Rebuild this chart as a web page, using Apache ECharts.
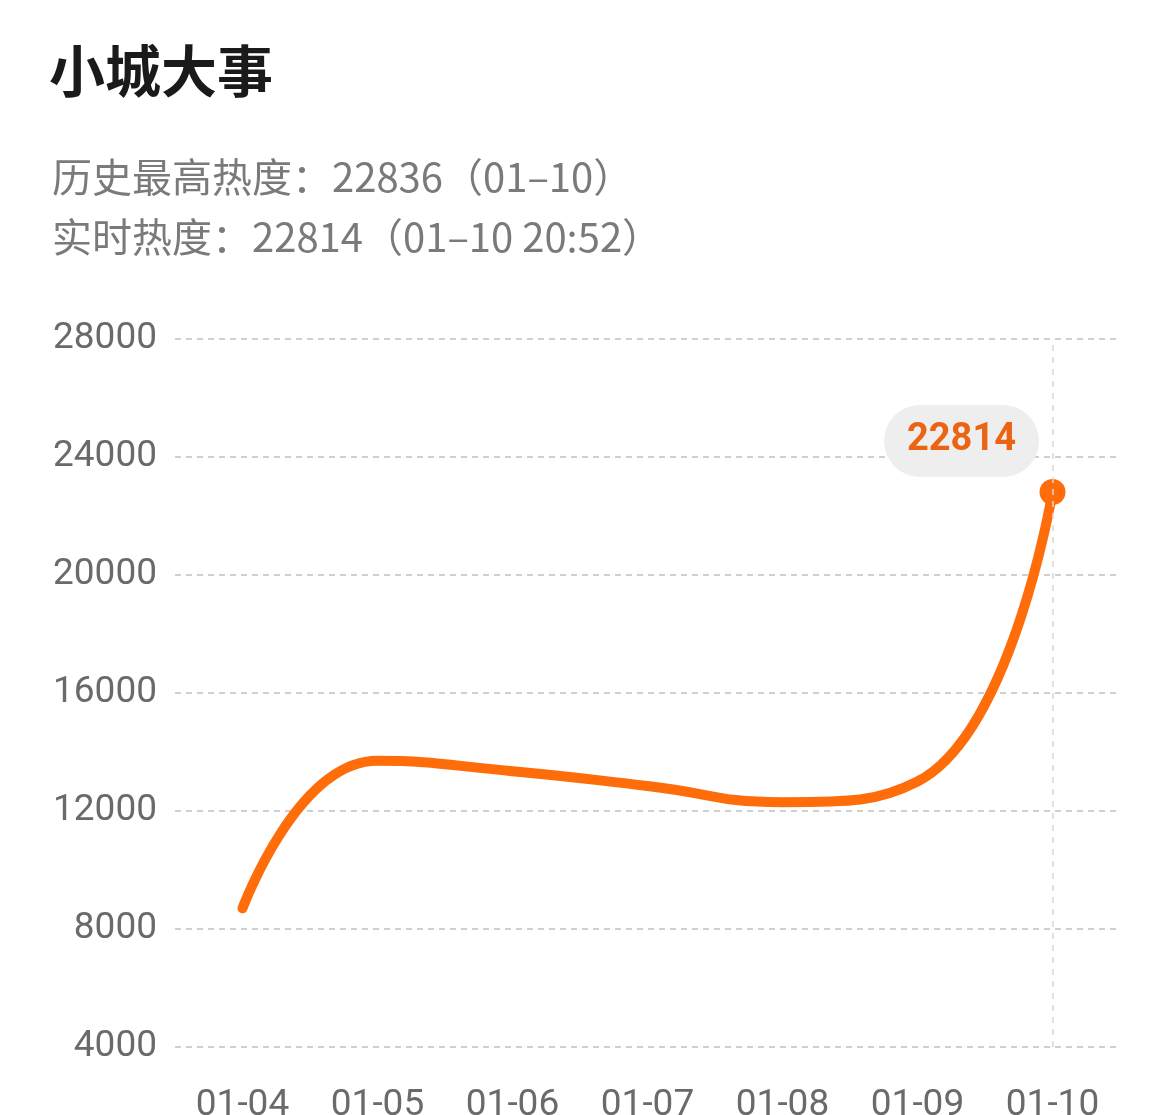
<!DOCTYPE html>
<html>
<head>
<meta charset="utf-8">
<script src="https://cdn.jsdelivr.net/npm/echarts@6/dist/echarts.min.js"></script>
<style>
  html, body { margin: 0; padding: 0; background: #fff; }
  #chart { width: 1170px; height: 1115px; }
</style>
</head>
<body>
<div id="chart"></div>
<script>
const titleText = '小城大事'
const subLines = ['历史最高热度：22836（01–10）', '实时热度：22814（01–10 20:52）']
const days = ['01-04', '01-05', '01-06', '01-07', '01-08', '01-09', '01-10']
const heat = [8700, 13700, 13350, 12850, 12300, 13000, 22814]
const yTicks = [4000, 8000, 12000, 16000, 20000, 24000, 28000]

const lastIdx = heat.length - 1
const seriesData = heat.map((v, i) => {
  if (i !== lastIdx) return { value: v, symbolSize: 0 }
  return {
    value: v,
    symbol: 'circle',
    symbolSize: 26,
    label: {
      show: true,
      position: 'inside',
      offset: [-91, -51],
      formatter: '{c}',
      color: '#ec6413',
      fontSize: 38,
      fontWeight: 'bold',
      fontFamily: 'Roboto',
      backgroundColor: '#eeeeee',
      borderRadius: 40,
      padding: [18, 23, 16, 23]
    }
  }
})

const chart = echarts.init(document.getElementById('chart'))
chart.setOption({
  animation: false,
  title: [
    {
      text: titleText,
      left: 44,
      top: 38,
      textStyle: { fontSize: 56, fontWeight: 'bold', color: '#1a1a1a', fontFamily: 'Noto Sans CJK SC' }
    },
    {
      text: subLines[0],
      left: 47,
      top: 152,
      textStyle: { fontSize: 40, fontWeight: 'normal', color: '#7a7a7a', fontFamily: 'Noto Sans CJK SC' }
    },
    {
      text: subLines[1],
      left: 47,
      top: 212,
      textStyle: { fontSize: 40, fontWeight: 'normal', color: '#7a7a7a', fontFamily: 'Noto Sans CJK SC' }
    }
  ],
  grid: { left: 175, right: 50, top: 339, bottom: 68, outerBoundsMode: 'none' },
  xAxis: {
    type: 'category',
    data: days,
    boundaryGap: true,
    axisLine: { show: false },
    axisTick: { show: false },
    axisLabel: { color: '#6a6a6a', fontSize: 37, fontFamily: 'Roboto', margin: 40 }
  },
  yAxis: {
    type: 'value',
    min: yTicks[0],
    max: yTicks[yTicks.length - 1],
    interval: yTicks[1] - yTicks[0],
    axisLine: { show: false },
    axisTick: { show: false },
    axisLabel: {
      color: '#6a6a6a', fontSize: 37, fontFamily: 'Roboto', margin: 18,
      formatter: v => String(v)
    },
    splitLine: { lineStyle: { color: '#cfcfcf', type: [6, 5], width: 2 } }
  },
  series: [
    {
      type: 'line',
      data: seriesData,
      smooth: 0.5,
      showSymbol: true,
      symbol: 'circle',
      itemStyle: { color: '#ff6c0a' },
      lineStyle: { color: '#ff6c0a', width: 10, cap: 'round' },
      markLine: {
        silent: true,
        symbol: 'none',
        label: { show: false },
        lineStyle: { color: '#d8d8d8', type: [6, 6], width: 1.5 },
        data: [{ xAxis: days[lastIdx] }]
      },
      z: 3
    }
  ]
})
</script>
</body>
</html>
